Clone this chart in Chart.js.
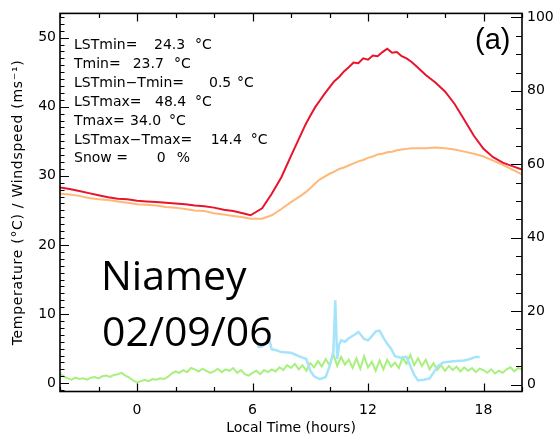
<!DOCTYPE html>
<html><head><meta charset="utf-8">
<script src="https://cdn.jsdelivr.net/npm/chart.js@4/dist/chart.umd.min.js"></script>
<style>html,body{margin:0;padding:0;background:#fff;} #wrap{width:554px;height:434px;}</style>
</head><body><div id="wrap"><canvas id="c" width="554" height="434"></canvas></div>
<script>
// ---- data ----
const tempHours = [-4,-3.5,-3,-2.5,-2,-1.5,-1,-0.5,0,0.5,1,1.5,2,2.5,3,3.5,4,4.5,5,5.5,5.9,6.5,7,7.5,8,8.5,8.75,9,9.25,9.5,9.75,10,10.25,10.5,10.75,11,11.25,11.5,11.75,12,12.25,12.5,12.75,13,13.25,13.5,13.75,14,14.25,14.5,15,15.5,16,16.5,17,17.5,18,18.5,19,19.5,20];
const lstValues = [28.3,28.1,27.8,27.5,27.2,26.9,26.7,26.6,26.4,26.3,26.2,26.1,26.0,25.9,25.7,25.6,25.4,25.1,24.9,24.6,24.3,25.3,27.4,29.8,32.9,35.9,37.4,38.7,39.9,40.9,41.9,42.8,43.7,44.3,45.1,45.7,46.4,46.3,47.0,46.8,47.4,47.3,47.9,48.4,47.8,47.9,47.3,47.0,46.5,45.9,44.6,43.5,42.2,40.4,38.1,35.8,33.9,32.7,31.9,31.4,30.9];
const tairValues = [27.4,27.3,27.1,26.8,26.6,26.5,26.3,26.1,25.9,25.8,25.7,25.5,25.4,25.2,25.0,24.9,24.6,24.4,24.2,24.0,23.8,23.8,24.3,25.2,26.2,27.1,27.6,28.2,28.9,29.5,29.9,30.3,30.6,31.0,31.2,31.5,31.8,32.1,32.3,32.6,32.8,33.1,33.2,33.4,33.5,33.7,33.8,33.9,34.0,34.0,34.0,34.1,34.0,33.8,33.5,33.2,32.8,32.2,31.6,30.9,30.2];
const windHours = [-4,-3.8,-3.6,-3.4,-3.2,-3,-2.8,-2.6,-2.4,-2.2,-2,-1.8,-1.6,-1.4,-1.2,-1,-0.8,-0.6,-0.4,-0.2,0,0.2,0.4,0.6,0.8,1,1.2,1.4,1.6,1.8,2,2.2,2.4,2.6,2.8,3,3.2,3.4,3.6,3.8,4,4.2,4.4,4.6,4.8,5,5.2,5.4,5.6,5.8,6,6.2,6.4,6.6,6.8,7,7.2,7.4,7.6,7.8,8,8.2,8.4,8.6,8.8,9,9.2,9.4,9.6,9.8,10,10.2,10.4,10.6,10.8,11,11.2,11.4,11.6,11.8,12,12.2,12.4,12.6,12.8,13,13.2,13.4,13.6,13.8,14,14.2,14.4,14.6,14.8,15,15.2,15.4,15.6,15.8,16,16.2,16.4,16.6,16.8,17,17.2,17.4,17.6,17.8,18,18.2,18.4,18.6,18.8,19,19.2,19.4,19.6,19.8,20];
const windValues = [1.4,1.0,0.7,0.5,0.8,0.6,0.7,0.5,0.8,0.9,0.7,1.0,1.1,0.9,1.2,1.3,1.5,1.1,0.8,0.4,0.1,0.3,0.5,0.3,0.6,0.5,0.7,0.6,0.9,1.4,1.7,1.5,1.9,1.6,2.2,2.0,1.7,2.1,1.8,1.5,1.7,2.1,1.6,2.0,1.8,2.2,1.5,1.9,1.3,1.1,1.5,1.8,1.3,1.9,1.6,2.0,1.7,2.3,1.9,2.6,2.2,2.8,2.0,2.6,1.8,2.9,2.3,3.2,2.4,3.5,2.6,4.2,2.5,3.8,2.7,3.4,2.2,3.6,2.1,3.9,2.3,3.1,1.8,3.3,2.0,3.4,2.4,3.0,2.2,3.7,2.8,4.1,2.6,3.6,2.5,3.4,2.0,2.9,1.9,2.6,1.8,2.5,1.9,2.4,1.7,2.3,1.8,2.2,1.6,2.1,1.9,1.5,2.0,1.4,1.8,1.5,2.0,2.3,1.7,2.2,2.0];
const cyanHours = [6.25,6.5,6.7,6.9,7.0,7.2,7.5,8.0,8.5,8.8,9.0,9.2,9.5,9.8,10.0,10.2,10.3,10.4,10.5,10.6,10.8,11.0,11.3,11.5,11.8,12.0,12.2,12.4,12.6,12.8,13.0,13.2,13.4,13.7,14.0,14.2,14.4,14.6,14.9,15.2,15.4,15.6,15.9,16.2,16.6,17.0,17.3,17.6,17.8];
const cyanValues = [5.2,5.3,5.8,6.0,4.9,4.8,4.5,4.4,3.8,3.5,1.8,1.0,0.6,0.9,2.4,4.5,12.0,3.5,5.6,6.2,6.0,6.5,7.0,7.4,6.4,6.2,6.8,7.5,7.6,6.6,5.7,5.0,3.9,3.7,3.8,2.5,1.2,0.4,0.5,0.7,1.5,2.4,3.0,3.1,3.2,3.3,3.5,3.8,3.8];
const xTickLabels = [0,6,12,18];
const leftTickLabels = [0,10,20,30,40,50];
const rightTickLabels = [0,20,40,60,80,100];
const statLabels = ['LSTmin=','Tmin=','LSTmin\u2212Tmin=','LSTmax=','Tmax=','LSTmax\u2212Tmax=','Snow ='];
const statValues = ['24.3','23.7','0.5','48.4','34.0','14.4','0'];
const statUnits = ['\u00B0C','\u00B0C','\u00B0C','\u00B0C','\u00B0C','\u00B0C','%'];
const siteName = 'Niamey';
const siteDate = '02/09/06';
const panelTag = '(a)';
const xTitle = 'Local Time (hours)';
const yTitle = 'Temperature (\u00B0C) / Windspeed (ms\u207B\u00B9)';

const pts = (xs, ys) => xs.map((x, i) => ({x, y: ys[i]}));
const F = 'DejaVu Sans';

const decor = {
  id: 'decor',
  afterDraw(chart) {
    const ctx = chart.ctx, a = chart.chartArea;
    const xs = chart.scales.x, ys = chart.scales.y, y2 = chart.scales.y2;
    ctx.save();
    ctx.strokeStyle = '#000';
    ctx.lineWidth = 1.2;
    ctx.beginPath();
    // left axis ticks (inward)
    for (let v = Math.ceil(ys.min); v <= ys.max; v++) {
      const p = Math.round(ys.getPixelForValue(v)) + 0.5;
      const len = v % 10 === 0 ? 9 : 4.5;
      ctx.moveTo(a.left, p); ctx.lineTo(a.left + len, p);
    }
    // right axis ticks
    for (let v = 0; v <= y2.max; v += 5) {
      const p = Math.round(y2.getPixelForValue(v)) + 0.5;
      const len = v % 20 === 0 ? 11 : 6;
      ctx.moveTo(a.right, p); ctx.lineTo(a.right - len, p);
    }
    // bottom / top ticks
    for (let h = -4; h <= 20; h += 2) {
      const p = Math.round(xs.getPixelForValue(h)) + 0.5;
      const len = h % 6 === 0 ? 8 : 4.5;
      ctx.moveTo(p, a.bottom); ctx.lineTo(p, a.bottom - len);
      ctx.moveTo(p, a.top); ctx.lineTo(p, a.top + len);
    }
    ctx.stroke();
    ctx.lineWidth = 1.6;
    ctx.strokeRect(a.left, a.top, a.right - a.left, a.bottom - a.top);

    ctx.fillStyle = '#000';
    // stats text
    ctx.font = '14px "' + F + '"';
    ctx.textBaseline = 'alphabetic';
    ctx.textAlign = 'left';
    const valX = [154,132.7,209,155,130,210.7,156.7];
    const unitX = [195,174,237,195,169,250.7,176.7];
    for (let i = 0; i < statLabels.length; i++) {
      const by = 49 + i * 18.9;
      ctx.fillText(statLabels[i], 74, by);
      ctx.fillText(statValues[i], valX[i], by);
      ctx.fillText(statUnits[i], unitX[i], by);
    }
    // panel tag
    ctx.font = '300 29px "Liberation Sans"';
    ctx.fillText(panelTag, 475, 49);
    // site text
    ctx.font = '41px "Open Sans"';
    ctx.fillText(siteName, 101, 290);
    ctx.fillText(siteDate, 102, 346);
    // axis titles
    ctx.font = '14px "' + F + '"';
    ctx.textAlign = 'center';
    ctx.textBaseline = 'middle';
    ctx.fillText(xTitle, (a.left + a.right) / 2, 428);
    ctx.translate(18, (a.top + a.bottom) / 2);
    ctx.rotate(-Math.PI / 2);
    try { ctx.letterSpacing = '0.7px'; } catch (e) {}
    ctx.fillText(yTitle, 0, 0);
    ctx.restore();
  }
};

const tickFont = {family: F, size: 14};
new Chart(document.getElementById('c'), {
  type: 'line',
  data: {
    datasets: [
      {label: 'LST', data: pts(tempHours, lstValues), borderColor: '#e8142d', borderWidth: 2, pointRadius: 0, order: 1},
      {label: 'Tair', data: pts(tempHours, tairValues), borderColor: '#ffb878', borderWidth: 2, pointRadius: 0, order: 2},
      {label: 'cyan', data: pts(cyanHours, cyanValues), borderColor: '#a6e4fb', borderWidth: 2.5, pointRadius: 0, order: 3},
      {label: 'Wind', data: pts(windHours, windValues), borderColor: '#a8f07e', borderWidth: 2, pointRadius: 0, order: 4}
    ]
  },
  options: {
    responsive: false,
    animation: false,
    layout: {padding: {top: 11, left: 0, right: 0, bottom: 0}},
    plugins: {legend: {display: false}, tooltip: {enabled: false}},
    scales: {
      x: {
        type: 'linear', min: -4, max: 20,
        afterBuildTicks: s => { s.ticks = xTickLabels.map(v => ({value: v})); },
        afterFit: s => { s.height = 42.5; },
        ticks: {font: tickFont, color: '#000', padding: 10, maxRotation: 0, autoSkip: false, callback: v => String(v)},
        grid: {display: false, drawTicks: false},
        border: {display: false}
      },
      y: {
        position: 'left', min: -1.2, max: 53.5,
        afterBuildTicks: s => { s.ticks = leftTickLabels.map(v => ({value: v})); },
        afterFit: s => { s.width = 60; },
        ticks: {font: tickFont, color: '#000', padding: 4, autoSkip: false, callback: v => String(v)},
        grid: {display: false, drawTicks: false},
        border: {display: false}
      },
      y2: {
        position: 'right', min: -1.9, max: 101.1, display: true,
        afterBuildTicks: s => { s.ticks = rightTickLabels.map(v => ({value: v})); },
        afterFit: s => { s.width = 32; },
        ticks: {font: tickFont, color: '#000', padding: 5, autoSkip: false, callback: v => String(v)},
        grid: {display: false, drawTicks: false},
        border: {display: false}
      }
    }
  },
  plugins: [decor]
});
</script>
</body></html>
